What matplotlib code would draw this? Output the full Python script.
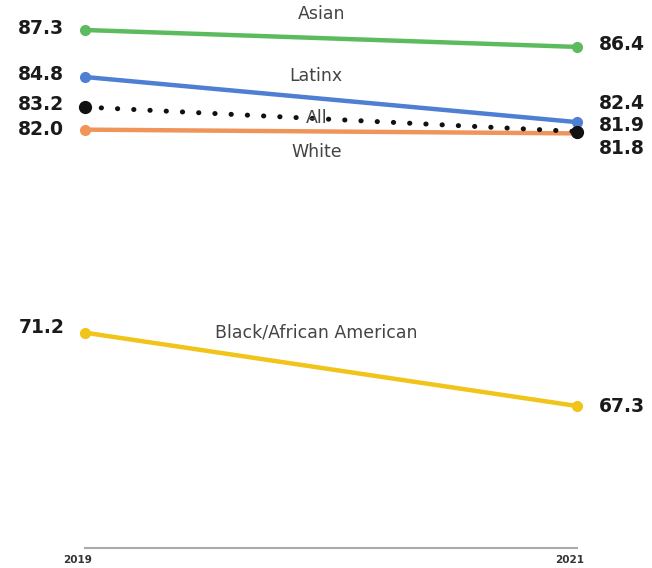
import numpy as np
import matplotlib
matplotlib.use('Agg')
import matplotlib.pyplot as plt
import matplotlib.transforms as mtransforms

years = [2019, 2021]
groups = ['Asian', 'Latinx', 'All', 'White', 'Black/African American']
vals_2019 = [87.3, 84.8, 83.2, 82.0, 71.2]
vals_2021 = [86.4, 82.4, 81.9, 81.8, 67.3]
colors = ['#5dbb5f', '#4f7fd3', '#111111', '#f0955a', '#f0c419']

# label nudges in points (left value, right value), and name placement
left_dy = [1, 1.5, 1.5, 0, 4]
right_dy = [2, 13.5, 4, -11, 0]
name_xy = [(2019.96, 88.15), (2019.94, 84.85), (2019.94, 82.62),
           (2019.94, 80.81), (2019.94, 71.23)]

fig = plt.figure(figsize=(6.52, 5.68), dpi=100)
ax = fig.add_axes([0, 20 / 568, 1, 548 / 568])
ax.set_xlim(2019 - 85 * 2 / 492, 2021 + 75 * 2 / 492)
ax.set_ylim(87.3 - 518 / 18.8, 87.3 + 30 / 18.8)

for i, g in enumerate(groups):
    y = [vals_2019[i], vals_2021[i]]
    if g == 'All':
        ax.plot(years, y, color=colors[i], lw=3.6, dashes=[0.05, 3.2],
                dash_capstyle='round', zorder=4)
        ax.plot(years, y, 'o', color=colors[i], ms=8.5, zorder=5)
    else:
        ax.plot(years, y, color=colors[i], lw=3.2, marker='o', ms=7,
                solid_capstyle='round', zorder=3)
    ax.annotate(f'{vals_2019[i]:.1f}', (2019, vals_2019[i]),
                xytext=(-15, left_dy[i]), textcoords='offset points',
                ha='right', va='center', fontsize=13.5, fontweight='bold',
                color='#1a1a1a')
    ax.annotate(f'{vals_2021[i]:.1f}', (2021, vals_2021[i]),
                xytext=(16, right_dy[i]), textcoords='offset points',
                ha='left', va='center', fontsize=13.5, fontweight='bold',
                color='#1a1a1a')
    ax.text(name_xy[i][0], name_xy[i][1], g, ha='center', va='center',
            fontsize=12.5, color='#444444', zorder=6)

for s in ['top', 'left', 'right']:
    ax.spines[s].set_visible(False)
ax.spines['bottom'].set_bounds(2019, 2021)
ax.spines['bottom'].set_color('#aaaaaa')
ax.spines['bottom'].set_linewidth(1.5)
ax.set_yticks([])
ax.set_xticks(years)
ax.set_xticklabels([str(y) for y in years], fontsize=7.5, fontweight='bold',
                   color='#333333')
ax.tick_params(axis='x', length=0, pad=5)
shift = mtransforms.ScaledTranslation(-5 / 72, 0, fig.dpi_scale_trans)
for lbl in ax.get_xticklabels():
    lbl.set_horizontalalignment('center')
    lbl.set_transform(lbl.get_transform() + shift)
ax.set_facecolor('white')

fig.savefig('out.png', dpi=100, facecolor='white')
